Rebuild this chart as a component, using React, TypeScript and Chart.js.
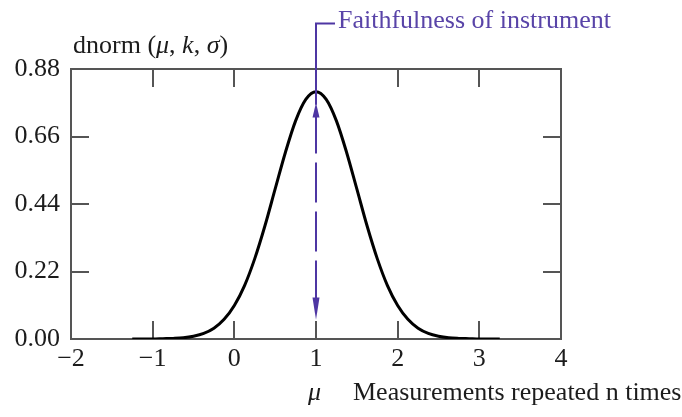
import { useEffect, useRef } from 'react';
import { Chart, registerables } from 'chart.js';

Chart.register(...registerables);

// Measurement axis positions and the density read at each of them
const X_VALUES = [
  -1.25, -1.125, -1, -0.875, -0.75, -0.625, -0.5, -0.375, -0.25, -0.125,
  0, 0.125, 0.25, 0.375, 0.5, 0.625, 0.75, 0.875, 1, 1.125,
  1.25, 1.375, 1.5, 1.625, 1.75, 1.875, 2, 2.125, 2.25, 2.375,
  2.5, 2.625, 2.75, 2.875, 3, 3.125, 3.25,
];
const DENSITY = [
  0.0, 0.0, 0.0, 0.001, 0.002, 0.004, 0.009, 0.018, 0.035, 0.064,
  0.109, 0.174, 0.262, 0.369, 0.489, 0.608, 0.711, 0.781, 0.806, 0.781,
  0.711, 0.608, 0.489, 0.369, 0.262, 0.174, 0.109, 0.064, 0.035, 0.018,
  0.009, 0.004, 0.002, 0.001, 0.0, 0.0, 0.0,
];

const X_TICKS = [-2, -1, 0, 1, 2, 3, 4];
const Y_TICKS = [0, 0.22, 0.44, 0.66, 0.88];

// The mean that the callout points at, and the extent of its arrows (in density units)
const MEAN = 1;
const CALLOUT_TOP = 1.028;
const UPPER_TIP = 0.77;
const UPPER_BASE = 0.735;
const LOWER_BASE = 0.122;
const LOWER_TIP = 0.063;

const CALLOUT_TEXT = 'Faithfulness of instrument';
const X_TITLE = 'Measurements repeated n times';

const SERIF = "'Liberation Serif', 'Times New Roman', serif";
const FONT_SIZE = 26;
const AXIS_COLOR = '#555555';
const TEXT_COLOR = '#1c1c1c';
const PURPLE = '#4e36a3';
const PURPLE_TEXT = '#5944a8';
const TICK_LEN = 18;

const fmtX = (v: number) => (v < 0 ? '\u2212' + Math.abs(v) : String(v));

// Draws a run of text segments, some italic, starting at x on the given baseline
function drawRuns(ctx: CanvasRenderingContext2D, runs: [string, boolean][], x: number, y: number) {
  let cx = x;
  for (const [txt, italic] of runs) {
    ctx.font = `${italic ? 'italic ' : ''}${FONT_SIZE}px ${SERIF}`;
    ctx.fillText(txt, cx, y);
    cx += ctx.measureText(txt).width;
  }
}

const framePlugin = {
  id: 'frameTicks',
  beforeDatasetsDraw(chart: any) {
    const { ctx, chartArea: a, scales } = chart;
    const xs = scales.x;
    const ys = scales.y;
    ctx.save();
    ctx.strokeStyle = AXIS_COLOR;
    ctx.lineWidth = 2;
    ctx.strokeRect(a.left, a.top, a.right - a.left, a.bottom - a.top);
    ctx.beginPath();
    for (const v of X_TICKS) {
      if (v <= xs.min || v >= xs.max) continue;
      const px = Math.round(xs.getPixelForValue(v));
      ctx.moveTo(px, a.bottom);
      ctx.lineTo(px, a.bottom - TICK_LEN);
      ctx.moveTo(px, a.top);
      ctx.lineTo(px, a.top + TICK_LEN);
    }
    for (const v of Y_TICKS) {
      if (v <= ys.min || v >= ys.max) continue;
      const py = Math.round(ys.getPixelForValue(v));
      ctx.moveTo(a.left, py);
      ctx.lineTo(a.left + TICK_LEN, py);
      ctx.moveTo(a.right, py);
      ctx.lineTo(a.right - TICK_LEN, py);
    }
    ctx.stroke();
    ctx.restore();
  },
};

const calloutPlugin = {
  id: 'callout',
  afterDatasetsDraw(chart: any) {
    const { ctx, scales } = chart;
    const xs = scales.x;
    const ys = scales.y;
    const px = xs.getPixelForValue(MEAN);
    const top = ys.getPixelForValue(CALLOUT_TOP);
    const upTip = ys.getPixelForValue(UPPER_TIP);
    const upBase = ys.getPixelForValue(UPPER_BASE);
    const lowBase = ys.getPixelForValue(LOWER_BASE);
    const lowTip = ys.getPixelForValue(LOWER_TIP);
    const halfW = 3.5;

    ctx.save();
    ctx.strokeStyle = PURPLE;
    ctx.fillStyle = PURPLE;
    ctx.lineWidth = 2;

    // bracket leading to the label and the solid stem down to the upper arrow
    ctx.beginPath();
    ctx.moveTo(px + 19, top);
    ctx.lineTo(px, top);
    ctx.lineTo(px, upTip + 2);
    ctx.stroke();

    // dashed shaft between the two arrowheads
    ctx.setLineDash([40, 9]);
    ctx.beginPath();
    ctx.moveTo(px, upBase);
    ctx.lineTo(px, lowBase);
    ctx.stroke();
    ctx.setLineDash([]);

    // arrowheads
    ctx.beginPath();
    ctx.moveTo(px, upTip);
    ctx.lineTo(px - halfW, upBase + 4);
    ctx.lineTo(px + halfW, upBase + 4);
    ctx.closePath();
    ctx.fill();
    ctx.beginPath();
    ctx.moveTo(px, lowTip);
    ctx.lineTo(px - halfW, lowBase - 4);
    ctx.lineTo(px + halfW, lowBase - 4);
    ctx.closePath();
    ctx.fill();

    ctx.fillStyle = PURPLE_TEXT;
    ctx.textBaseline = 'alphabetic';
    ctx.textAlign = 'left';
    ctx.font = `${FONT_SIZE}px ${SERIF}`;
    ctx.fillText(CALLOUT_TEXT, px + 22, top + 4);
    ctx.restore();
  },
};

const titlesPlugin = {
  id: 'titles',
  afterDraw(chart: any) {
    const { ctx, chartArea: a } = chart;
    ctx.save();
    ctx.fillStyle = TEXT_COLOR;
    ctx.textBaseline = 'alphabetic';
    ctx.textAlign = 'left';
    // y-axis title above the plot
    drawRuns(
      ctx,
      [
        ['dnorm (', false],
        ['\u03bc', true],
        [', ', false],
        ['k', true],
        [', ', false],
        ['\u03c3', true],
        [')', false],
      ],
      a.left + 2,
      a.top - 16,
    );
    // x-axis title below the tick labels
    const base = a.bottom + 61;
    drawRuns(ctx, [['\u03bc', true]], a.left + 237, base);
    drawRuns(ctx, [[X_TITLE, false]], a.left + 282, base);
    ctx.restore();
  },
};

export default function App() {
  const canvasRef = useRef<HTMLCanvasElement | null>(null);

  useEffect(() => {
    const canvas = canvasRef.current;
    if (!canvas) return;
    const points = X_VALUES.map((x, i) => ({ x, y: DENSITY[i] }));
    const tickFont = { family: SERIF, size: FONT_SIZE };

    const chart = new Chart(canvas, {
      type: 'line',
      data: {
        datasets: [
          {
            data: points,
            borderColor: '#000000',
            borderWidth: 3,
            pointRadius: 0,
            fill: false,
            cubicInterpolationMode: 'monotone',
          },
        ],
      },
      options: {
        responsive: false,
        animation: false,
        events: [],
        layout: { padding: { top: 69, right: 121, left: 0, bottom: 0 } },
        plugins: {
          legend: { display: false },
          tooltip: { enabled: false },
          title: { display: false },
        },
        scales: {
          x: {
            type: 'linear',
            min: -2,
            max: 4,
            grid: { display: false, drawTicks: false },
            border: { display: false },
            afterBuildTicks: (scale: any) => {
              scale.ticks = X_TICKS.map((v) => ({ value: v }));
            },
            afterFit: (scale: any) => {
              scale.height = 78;
            },
            ticks: {
              font: tickFont,
              color: TEXT_COLOR,
              padding: 5,
              maxRotation: 0,
              autoSkip: false,
              callback: (v: any) => fmtX(Number(v)),
            },
          },
          y: {
            type: 'linear',
            min: 0,
            max: 0.88,
            grid: { display: false, drawTicks: false },
            border: { display: false },
            afterBuildTicks: (scale: any) => {
              scale.ticks = Y_TICKS.map((v) => ({ value: v }));
            },
            afterFit: (scale: any) => {
              scale.width = 71;
            },
            ticks: {
              font: tickFont,
              color: TEXT_COLOR,
              padding: 11,
              autoSkip: false,
              callback: (v: any) => Number(v).toFixed(2),
            },
          },
        },
      },
      plugins: [framePlugin, calloutPlugin, titlesPlugin],
    } as any);

    return () => chart.destroy();
  }, []);

  return (
    <div style={{ position: 'fixed', left: 0, top: 0, width: 682, height: 417, background: '#ffffff' }}>
      <canvas ref={canvasRef} width={682} height={417} style={{ display: 'block' }} />
    </div>
  );
}
